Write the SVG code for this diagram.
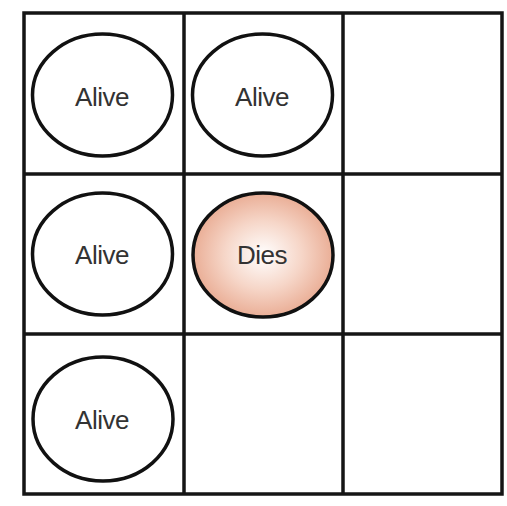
<svg xmlns="http://www.w3.org/2000/svg" width="507" height="506" viewBox="0 0 507 506">
<style>
.grid{stroke:#151515;stroke-width:3.5;fill:none}
.cell{stroke:#111;stroke-width:3.5;fill:#fff}
.lbl{font-family:"Liberation Sans",Arial,sans-serif;font-size:26px;fill:#333;text-anchor:middle;letter-spacing:-0.5px}
</style>
<defs>
<radialGradient id="dies" cx="50%" cy="50%" r="50%">
<stop offset="0" stop-color="#ffffff"/>
<stop offset="0.55" stop-color="#f6d6c8"/>
<stop offset="1" stop-color="#eaae96"/>
</radialGradient>
</defs>
<rect width="507" height="506" fill="#fff"/>
<g id="grid" class="grid">
<rect x="24" y="13" width="478" height="481"/>
<line x1="184" y1="13" x2="184" y2="494"/>
<line x1="343" y1="13" x2="343" y2="494"/>
<line x1="24" y1="174" x2="502" y2="174"/>
<line x1="24" y1="334" x2="502" y2="334"/>
</g>
<g id="connectors"></g>
<g id="n1"><ellipse class="cell" cx="102.5" cy="95" rx="70" ry="61"/><text class="lbl" x="102" y="106">Alive</text></g>
<g id="n2"><ellipse class="cell" cx="262.5" cy="95" rx="70" ry="61"/><text class="lbl" x="262" y="106">Alive</text></g>
<g id="n3"><ellipse class="cell" cx="102.5" cy="254" rx="70" ry="61"/><text class="lbl" x="102" y="264">Alive</text></g>
<g id="n4"><ellipse class="cell" cx="263" cy="255" rx="70" ry="62" style="fill:url(#dies)"/><text class="lbl" x="262" y="264">Dies</text></g>
<g id="n5"><ellipse class="cell" cx="103" cy="419" rx="70" ry="62"/><text class="lbl" x="102" y="429">Alive</text></g>
</svg>
